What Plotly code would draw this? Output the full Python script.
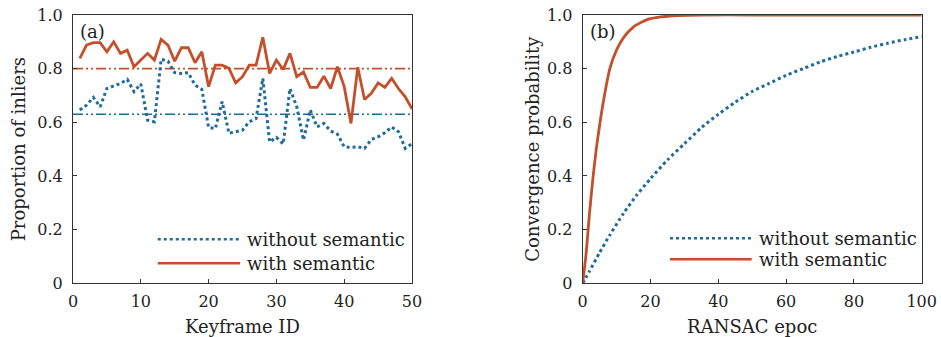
import plotly.graph_objects as go

# ---------------- data ----------------
keyframe_id = list(range(1, 51))
inliers_with = [0.838, 0.888, 0.897, 0.897, 0.863, 0.900, 0.857, 0.869, 0.807, 0.832,
                0.857, 0.832, 0.909, 0.888, 0.828, 0.878, 0.878, 0.822, 0.863, 0.733,
                0.813, 0.813, 0.801, 0.747, 0.770, 0.813, 0.813, 0.917, 0.782, 0.832,
                0.797, 0.857, 0.770, 0.788, 0.730, 0.730, 0.772, 0.726, 0.807, 0.733,
                0.596, 0.805, 0.685, 0.708, 0.747, 0.730, 0.764, 0.726, 0.695, 0.650]
inliers_without = [0.646, 0.664, 0.693, 0.658, 0.726, 0.735, 0.745, 0.760, 0.714, 0.743,
                   0.608, 0.602, 0.835, 0.828, 0.785, 0.782, 0.785, 0.739, 0.723, 0.581,
                   0.577, 0.677, 0.559, 0.565, 0.571, 0.602, 0.614, 0.764, 0.527, 0.544,
                   0.519, 0.726, 0.658, 0.534, 0.646, 0.583, 0.596, 0.568, 0.556, 0.509,
                   0.506, 0.509, 0.503, 0.536, 0.546, 0.561, 0.583, 0.565, 0.503, 0.520]
mean_with = 0.80
mean_without = 0.63

epoch_with = [0, 1, 2, 3, 4, 5, 6, 8, 10, 12, 15, 19, 23, 28, 35, 50, 75, 100]
conv_with = [0, 0.11, 0.26, 0.39, 0.50, 0.59, 0.67, 0.80, 0.87, 0.915, 0.956, 0.983,
             0.993, 0.998, 1.0, 1.0, 1.0, 1.0]
epoch_without = [0, 2, 5, 8, 12, 16, 20, 25, 30, 35, 40, 45, 50, 55, 60, 65, 70, 75,
                 80, 85, 90, 95, 100]
conv_without = [0, 0.045, 0.115, 0.18, 0.26, 0.33, 0.39, 0.46, 0.52, 0.58, 0.63, 0.675,
                0.715, 0.745, 0.775, 0.80, 0.825, 0.845, 0.862, 0.88, 0.895, 0.908, 0.919]

series_names = ["without semantic", "with semantic"]
xticks_a = [0, 10, 20, 30, 40, 50]
xticks_b = [0, 20, 40, 60, 80, 100]
yticks = [0, 0.2, 0.4, 0.6, 0.8, 1.0]
ytick_text = ["0", "0.2", "0.4", "0.6", "0.8", "1.0"]

# ---------------- style ----------------
RED = "#c4502b"
BLUE = "#1f6b9c"
FONT = "DejaVu Serif"

fig = go.Figure()

# panel (a)
fig.add_trace(go.Scatter(x=[0, 50], y=[mean_with] * 2, mode="lines", xaxis="x", yaxis="y",
                         line=dict(color=RED, width=1.6, dash="10px,3px,2px,3px,2px,3px"),
                         showlegend=False))
fig.add_trace(go.Scatter(x=[0, 50], y=[mean_without] * 2, mode="lines", xaxis="x", yaxis="y",
                         line=dict(color=BLUE, width=1.6, dash="10px,3px,2px,3px,2px,3px"),
                         showlegend=False))
fig.add_trace(go.Scatter(x=keyframe_id, y=inliers_without, mode="lines", xaxis="x", yaxis="y",
                         line=dict(color=BLUE, width=3, dash="dot"), showlegend=False))
fig.add_trace(go.Scatter(x=keyframe_id, y=inliers_with, mode="lines", xaxis="x", yaxis="y",
                         line=dict(color=RED, width=2.8), showlegend=False))

# panel (b)
fig.add_trace(go.Scatter(x=epoch_without, y=conv_without, mode="lines", xaxis="x2", yaxis="y2",
                         line=dict(color=BLUE, width=3, dash="dot", shape="spline", smoothing=0.6),
                         showlegend=False))
fig.add_trace(go.Scatter(x=epoch_with, y=conv_with, mode="lines", xaxis="x2", yaxis="y2",
                         line=dict(color=RED, width=2.8, shape="spline", smoothing=0.6),
                         showlegend=False))

W, H = 941, 337
def xdom(l, r):
    return [l / W, r / W]
ydom = [(H - 283.3) / H, (H - 15) / H]

axis_common = dict(showline=True, linecolor="#333", linewidth=1.2, mirror=True,
                   ticks="inside", ticklen=4, tickcolor="#333", showgrid=False,
                   zeroline=False, automargin=False,
                   tickfont=dict(family=FONT, size=16, color="#222"))

fig.update_layout(
    width=W, height=H, margin=dict(l=0, r=0, t=0, b=0),
    paper_bgcolor="white", plot_bgcolor="white",
    font=dict(family=FONT, size=16, color="#222"),
    xaxis=dict(domain=xdom(73, 412), range=[0, 50], tickvals=xticks_a, anchor="y",
               ticklabelstandoff=3,
               title=dict(text="Keyframe ID", font=dict(size=18), standoff=10), **axis_common),
    yaxis=dict(domain=ydom, range=[0, 1], tickvals=yticks, ticktext=ytick_text, anchor="x",
               ticklabelstandoff=6,
               title=dict(text="Proportion of inliers", font=dict(size=18), standoff=6), **axis_common),
    xaxis2=dict(domain=xdom(582.7, 921.7), range=[0, 100], tickvals=xticks_b, anchor="y2",
                ticklabelstandoff=3,
                title=dict(text="RANSAC epoc", font=dict(size=18), standoff=10), **axis_common),
    yaxis2=dict(domain=ydom, range=[0, 1], tickvals=yticks, ticktext=ytick_text, anchor="x2",
                ticklabelstandoff=6,
                title=dict(text="Convergence probability", font=dict(size=18), standoff=2), **axis_common),
)

# panel labels
for xr, yr, lab in [("x domain", "y domain", "(a)"), ("x2 domain", "y2 domain", "(b)")]:
    fig.add_annotation(x=0.015, y=0.985, xref=xr, yref=yr, text=lab, showarrow=False,
                       xanchor="left", yanchor="top", font=dict(family=FONT, size=18, color="#222"))

# manual legends
legend_specs = [
    ("x domain", "y domain", 0.25, 0.493, 0.507, [0.164, 0.0746]),
    ("x2 domain", "y2 domain", 0.2575, 0.4985, 0.514, [0.168, 0.0895]),
]
for xr, yr, x0, x1, xt, rows in legend_specs:
    for name, yrow, col, dash, wd in zip(series_names, rows, [BLUE, RED], ["dot", "solid"], [2.5, 2.5]):
        fig.add_shape(type="line", xref=xr, yref=yr, x0=x0, x1=x1, y0=yrow, y1=yrow,
                      line=dict(color=col, width=wd, dash=dash))
        fig.add_annotation(x=xt, y=yrow, xref=xr, yref=yr, text=name, showarrow=False,
                           xanchor="left", yanchor="middle",
                           font=dict(family=FONT, size=18, color="#222"))

fig.write_html("out.html", config={"displayModeBar": False},
               post_script="document.body.style.margin='0';document.body.style.overflow='hidden';")
